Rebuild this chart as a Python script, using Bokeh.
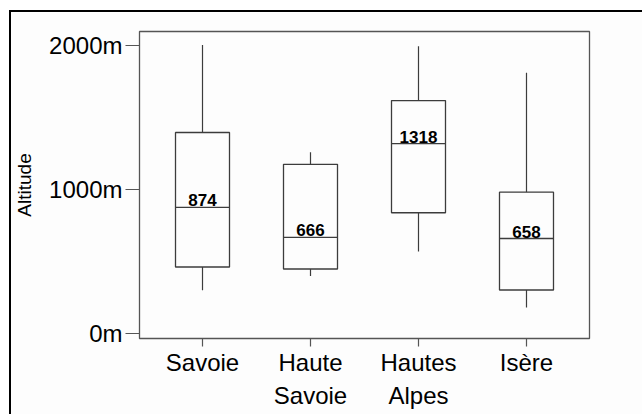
from bokeh.plotting import figure
from bokeh.models import ColumnDataSource, FixedTicker, Range1d, FactorRange
from bokeh.transform import dodge
from bokeh.core.properties import value
from bokeh.embed import file_html
from bokeh.resources import INLINE

# ---- data ----
categories = ["Savoie", "Haute\nSavoie", "Hautes\nAlpes", "Isère"]
low = [298, 397, 568, 178]
q1 = [460, 446, 837, 300]
median = [874, 666, 1318, 658]
q3 = [1395, 1174, 1617, 980]
high = [2003, 1257, 1994, 1811]
median_labels = ["874", "666", "1318", "658"]
y_ticks = [0, 1000, 2000]
y_tick_labels = ["0m", "1000m", "2000m"]

src = ColumnDataSource(dict(cat=categories, low=low, q1=q1, med=median,
                            q3=q3, high=high, lab=median_labels))

FONT = "Liberation Sans"
LINE = "#3c3c3c"
BG = "#fdfdfd"

p = figure(width=633, height=404, output_backend="svg", toolbar_location=None,
           x_range=FactorRange(*categories, range_padding=0.0417,
                               range_padding_units="percent"),
           y_range=Range1d(-37, 2097),
           min_border_left=128, min_border_right=55,
           min_border_top=19, min_border_bottom=78)
p.styles = {"border-left": "2px solid #000000", "border-top": "2px solid #000000",
            "margin-left": "9px", "margin-top": "10px"}
p.background_fill_color = BG
p.border_fill_color = BG
p.outline_line_color = "#555555"
p.outline_line_width = 1.3
p.xgrid.visible = False
p.ygrid.visible = False

# whiskers
p.segment(x0="cat", y0="q3", x1="cat", y1="high", source=src,
          line_color=LINE, line_width=1.2)
p.segment(x0="cat", y0="q1", x1="cat", y1="low", source=src,
          line_color=LINE, line_width=1.2)
# boxes
p.vbar(x="cat", bottom="q1", top="q3", width=0.5, source=src,
       fill_color=BG, line_color=LINE, line_width=1.3)
# medians
p.segment(x0=dodge("cat", -0.25, range=p.x_range), y0="med",
          x1=dodge("cat", 0.25, range=p.x_range), y1="med", source=src,
          line_color=LINE, line_width=1.3)
p.text(x="cat", y="med", text="lab", source=src, text_align="center",
       text_baseline="bottom", y_offset=-1, text_font=value(FONT),
       text_font_size="17px", text_font_style="bold", text_color="#000000")

# axes
ya = p.yaxis[0]
ya.ticker = FixedTicker(ticks=y_ticks)
ya.major_label_overrides = {t: l for t, l in zip(y_ticks, y_tick_labels)}
ya.axis_line_color = None
ya.minor_tick_line_color = None
ya.major_tick_in = 0
ya.major_tick_out = 14
ya.major_tick_line_color = "#555555"
ya.major_tick_line_width = 1.2
ya.major_label_standoff = 3
ya.major_label_text_font = FONT
ya.major_label_text_font_size = "24px"
ya.major_label_text_color = "#000000"
ya.axis_label = "Altitude"
ya.axis_label_text_font = FONT
ya.axis_label_text_font_size = "19px"
ya.axis_label_text_font_style = "normal"
ya.axis_label_text_color = "#000000"
ya.axis_label_standoff = 11

xa = p.xaxis[0]
xa.axis_line_color = None
xa.major_tick_in = 0
xa.major_tick_out = 8
xa.major_tick_line_color = "#555555"
xa.major_tick_line_width = 1.2
xa.major_label_standoff = 2
xa.major_label_text_font = FONT
xa.major_label_text_font_size = "24px"
xa.major_label_text_color = "#000000"
xa.major_label_text_line_height = 1.25

open("out.html", "w").write(file_html(p, INLINE))
